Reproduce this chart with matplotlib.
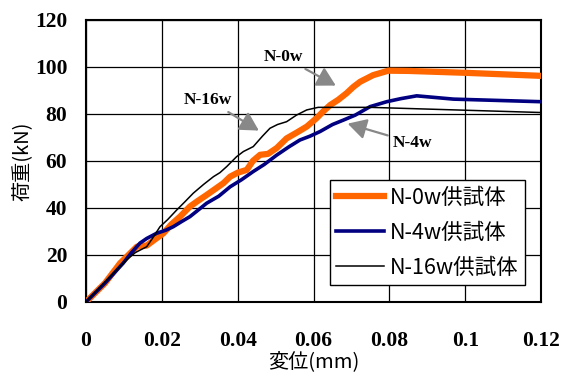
import matplotlib
matplotlib.use("Agg")
import matplotlib.pyplot as plt

# load-displacement data
n0w_disp = [0, 0.005, 0.009, 0.0134, 0.016, 0.0186, 0.0204, 0.0225, 0.0248, 0.0274,
            0.0295, 0.0318, 0.034, 0.0362, 0.038, 0.040, 0.0424, 0.044, 0.0459, 0.048,
            0.0503, 0.0529, 0.0555, 0.0582, 0.0608, 0.0625, 0.0644, 0.0665, 0.0687,
            0.0705, 0.0723, 0.0757, 0.0797, 0.085, 0.10, 0.12]
n0w_load = [0, 8, 16.5, 23.5, 24, 27.1, 29.2, 33, 36.3, 40.6,
            43, 45.5, 48, 50.5, 53.3, 55, 56.2, 60, 62.6, 63,
            65.5, 69.6, 72, 74.6, 78.2, 81, 83.8, 86, 88.8,
            91.5, 93.7, 96.5, 98.4, 98.3, 97.5, 96.2]

n4w_disp = [0, 0.005, 0.0098, 0.012, 0.0142, 0.016, 0.0186, 0.021, 0.023, 0.025,
            0.0274, 0.0295, 0.0318, 0.035, 0.038, 0.041, 0.0441, 0.047, 0.0503,
            0.0535, 0.0564, 0.059, 0.0617, 0.065, 0.0679, 0.071, 0.0749, 0.0793,
            0.083, 0.0872, 0.0969, 0.12]
n4w_load = [0, 8, 16.5, 21, 25, 27, 29.2, 30.5, 32, 34,
            36.3, 39, 42, 45, 49, 52, 55.5, 58.5, 62.5,
            66, 68.9, 70.5, 72.5, 75.5, 77.4, 79.5, 83.1, 85.2,
            86.5, 87.7, 86.3, 85.2]

n16w_disp = [0, 0.005, 0.0107, 0.013, 0.016, 0.0175, 0.0195, 0.0215, 0.0239, 0.026,
             0.0283, 0.031, 0.0336, 0.0353, 0.0371, 0.0397, 0.0415, 0.0441, 0.0465,
             0.0485, 0.0505, 0.0529, 0.0555, 0.0582, 0.0612, 0.0749, 0.12]
n16w_load = [0, 8.5, 17.9, 21, 23.5, 27, 32, 35, 39.1, 42.5,
             46.3, 50, 53.3, 55, 57.6, 61.8, 64, 66.1, 70.5,
             73.9, 75.5, 76.7, 79.5, 81.7, 82.8, 82.8, 80.6]

labels = ["N-0w供試体", "N-4w供試体", "N-16w供試体"]
x_ticks = [0, 0.02, 0.04, 0.06, 0.08, 0.1, 0.12]
x_ticklabels = ["0", "0.02", "0.04", "0.06", "0.08", "0.1", "0.12"]
y_ticks = [0, 20, 40, 60, 80, 100, 120]

cjk = ["Noto Sans CJK JP", "DejaVu Sans"]
serif = "Liberation Serif"

fig = plt.figure(figsize=(5.66, 3.76), dpi=100)
ax = fig.add_axes([0.152, 0.197, 0.804, 0.750])

ax.plot(n0w_disp, n0w_load, color="#ff6600", lw=4.5, label=labels[0], zorder=3)
ax.plot(n4w_disp, n4w_load, color="#000080", lw=2.6, label=labels[1], zorder=4)
ax.plot(n16w_disp, n16w_load, color="black", lw=1.1, label=labels[2], zorder=5)

ax.set_xlim(0, 0.12)
ax.set_ylim(0, 120)
ax.set_xticks(x_ticks)
ax.set_xticklabels(x_ticklabels)
ax.set_yticks(y_ticks)
ax.grid(True, color="black", lw=0.9)
ax.tick_params(axis="x", length=0, pad=21)
ax.tick_params(axis="y", length=0, pad=13.5)
for lab in ax.get_xticklabels() + ax.get_yticklabels():
    lab.set_fontfamily(serif)
    lab.set_fontweight("bold")
    lab.set_fontsize(15.5)
for s in ax.spines.values():
    s.set_linewidth(1.5)

ax.set_xlabel("変位(mm)", family=cjk, fontsize=14.5, labelpad=0)
ax.set_ylabel("荷重(kN)", family=cjk, fontsize=14.5)
ax.yaxis.set_label_coords(-0.116, 0.5)

arrow = dict(arrowstyle="-|>,head_length=0.9,head_width=0.5", color="#888888", lw=1.6)
ax.annotate("N-0w", xy=(0.0665, 91.5), xytext=(0.052, 104.3), ha="center", va="center",
            family=serif, fontweight="bold", fontsize=12.5, arrowprops=arrow)
ax.annotate("N-16w", xy=(0.0462, 72.3), xytext=(0.0322, 86), ha="center", va="center",
            family=serif, fontweight="bold", fontsize=12.5, arrowprops=arrow)
ax.annotate("N-4w", xy=(0.0683, 76.2), xytext=(0.0862, 67.7), ha="center", va="center",
            family=serif, fontweight="bold", fontsize=12.5, arrowprops=arrow)

leg = ax.legend(loc="lower right", bbox_to_anchor=(0.965, 0.06), borderaxespad=0,
                prop={"family": cjk, "size": 15.5},
                fancybox=False, framealpha=1, edgecolor="black", handlelength=2.2,
                handletextpad=0.3, labelspacing=0.6, borderpad=0.3)
leg.get_frame().set_linewidth(1.0)

fig.savefig("out.png", dpi=100)
